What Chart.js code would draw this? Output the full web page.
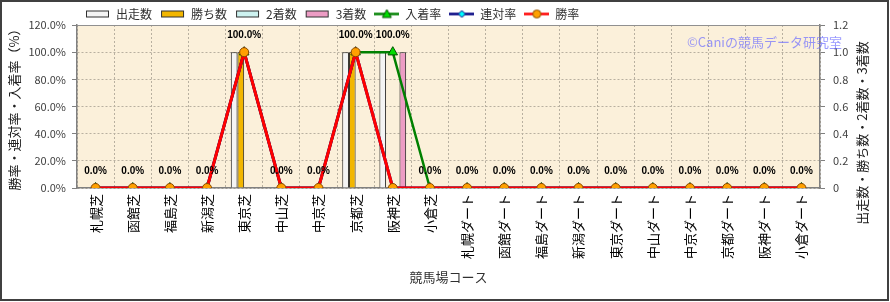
<!DOCTYPE html>
<html>
<head>
<meta charset="utf-8">
<script src="https://cdn.jsdelivr.net/npm/chart.js@4/dist/chart.umd.min.js"></script>
<style>
    html, body { margin: 0; padding: 0; background: #fff; }
    #wrap { width: 890px; height: 302px; position: relative; }
</style>
</head>
<body>
<div id="wrap"><canvas id="myChart"></canvas></div>
<script>
// data
const courses = ['札幌芝', '函館芝', '福島芝', '新潟芝', '東京芝', '中山芝', '中京芝', '京都芝', '阪神芝', '小倉芝',
    '札幌ダート', '函館ダート', '福島ダート', '新潟ダート', '東京ダート', '中山ダート', '中京ダート', '京都ダート', '阪神ダート', '小倉ダート'];
const starts  = [0, 0, 0, 0, 1, 0, 0, 1, 1, 0, 0, 0, 0, 0, 0, 0, 0, 0, 0, 0];
const wins    = [0, 0, 0, 0, 1, 0, 0, 1, 0, 0, 0, 0, 0, 0, 0, 0, 0, 0, 0, 0];
const seconds = [0, 0, 0, 0, 0, 0, 0, 0, 0, 0, 0, 0, 0, 0, 0, 0, 0, 0, 0, 0];
const thirds  = [0, 0, 0, 0, 0, 0, 0, 0, 1, 0, 0, 0, 0, 0, 0, 0, 0, 0, 0, 0];
const placeRate = [0, 0, 0, 0, 100, 0, 0, 100, 100, 0, 0, 0, 0, 0, 0, 0, 0, 0, 0, 0];
const top2Rate  = [0, 0, 0, 0, 100, 0, 0, 100, 0, 0, 0, 0, 0, 0, 0, 0, 0, 0, 0, 0];
const winRate   = [0, 0, 0, 0, 100, 0, 0, 100, 0, 0, 0, 0, 0, 0, 0, 0, 0, 0, 0, 0];

const JP = '"Noto Sans CJK JP", "Noto Sans", sans-serif';

// little legend pictures (bar swatch / line with marker)
function barIcon(fill) {
    const c = document.createElement('canvas');
    c.width = 25; c.height = 9;
    const g = c.getContext('2d');
    g.fillStyle = fill;
    g.fillRect(1, 1, 23, 7);
    g.strokeStyle = '#303030';
    g.lineWidth = 1;
    g.strokeRect(1.5, 1.5, 22, 6);
    return c;
}
function lineIcon(color, shape, fill, stroke) {
    const c = document.createElement('canvas');
    c.width = 25; c.height = 11;
    const g = c.getContext('2d');
    g.strokeStyle = color;
    g.lineWidth = 2.5;
    g.beginPath(); g.moveTo(0, 5.5); g.lineTo(25, 5.5); g.stroke();
    g.fillStyle = fill;
    g.strokeStyle = stroke;
    g.lineWidth = 1;
    g.beginPath();
    if (shape === 'triangle') {
        g.moveTo(12.5, 1); g.lineTo(17, 9); g.lineTo(8, 9); g.closePath();
    } else if (shape === 'rectRot') {
        g.moveTo(12.5, 2); g.lineTo(16, 5.5); g.lineTo(12.5, 9); g.lineTo(9, 5.5); g.closePath();
    } else {
        g.arc(12.5, 5.5, 4, 0, Math.PI * 2);
    }
    g.fill(); g.stroke();
    return c;
}

const icons = [
    barIcon('#F4F4F4'),
    barIcon('#F2B600'),
    barIcon('#CDF2F0'),
    barIcon('#EC9CC4'),
    lineIcon('#008000', 'triangle', '#00DD00', '#005000'),
    lineIcon('#000080', 'rectRot', '#00FFFF', '#000080'),
    lineIcon('#FF0000', 'circle', '#FFA000', '#8A4A00')
];

const decor = {
    id: 'decor',
    beforeLayout(chart) {
        const lg = chart.legend;
        if (lg && !lg._fixH) {
            const fit = lg.fit;
            lg.fit = function () { fit.call(this); this.height = 25; };
            lg._fixH = true;
        }
    },
    beforeDraw(chart) {
        const {ctx, chartArea: a} = chart;
        ctx.save();
        ctx.fillStyle = '#fff';
        ctx.fillRect(0, 0, chart.width, chart.height);
        ctx.fillStyle = '#FBF0DA';
        ctx.fillRect(a.left, a.top, a.right - a.left, a.bottom - a.top);
        ctx.restore();
    },
    afterDraw(chart) {
        const {ctx, chartArea: a} = chart;
        const x = chart.scales.x, yL = chart.scales.yL;
        ctx.save();
        // top frame line
        ctx.strokeStyle = '#909090';
        ctx.lineWidth = 1;
        ctx.beginPath(); ctx.moveTo(a.left, a.top + 0.5); ctx.lineTo(a.right, a.top + 0.5); ctx.stroke();

        // value labels of 入着率
        ctx.fillStyle = '#000';
        ctx.font = 'bold 10px "Liberation Sans", Arial, sans-serif';
        ctx.textAlign = 'center';
        ctx.textBaseline = 'middle';
        placeRate.forEach((v, i) => {
            ctx.fillText(v.toFixed(1) + '%', x.getPixelForValue(i), yL.getPixelForValue(v) - 17);
        });

        // watermark
        ctx.fillStyle = 'rgba(110, 110, 255, 0.7)';
        ctx.font = '13px ' + JP;
        ctx.textAlign = 'left';
        ctx.fillText('©Caniの競馬データ研究室', 687, 42);

        // right axis title, reading bottom to top
        ctx.fillStyle = '#202020';
        ctx.font = '13px ' + JP;
        ctx.textAlign = 'center';
        ctx.translate(862, 133);
        ctx.rotate(-Math.PI / 2);
        ctx.fillText('出走数・勝ち数・2着数・3着数', 0, 0);
        ctx.restore();

        // outer frame
        ctx.save();
        ctx.fillStyle = '#404040';
        ctx.fillRect(0, 0, 889, 2);
        ctx.fillRect(0, 0, 2, 301);
        ctx.fillRect(887, 0, 2, 301);
        ctx.fillRect(0, 299, 889, 2);
        ctx.restore();
    }
};

const barBase = {type: 'bar', yAxisID: 'yR', borderColor: '#202020', borderWidth: 1, order: 5,
    categoryPercentage: 0.72, barPercentage: 1.0};
const lineBase = {type: 'line', yAxisID: 'yL', borderWidth: 3, tension: 0, pointBorderWidth: 1};

const ctx = document.getElementById('myChart');
const myChart = new Chart(ctx, {
    type: 'bar',
    data: {
        labels: courses,
        datasets: [
            {...barBase, label: '出走数', data: starts, backgroundColor: '#F4F4F4'},
            {...barBase, label: '勝ち数', data: wins, backgroundColor: '#F2B600'},
            {...barBase, label: '2着数', data: seconds, backgroundColor: '#CDF2F0'},
            {...barBase, label: '3着数', data: thirds, backgroundColor: '#EC9CC4'},
            {...lineBase, label: '入着率', data: placeRate, borderColor: '#008000', order: 3, borderWidth: 2.5,
                pointStyle: 'triangle', pointRadius: 5.5, pointBackgroundColor: '#00DD00', pointBorderColor: '#005000'},
            {...lineBase, label: '連対率', data: top2Rate, borderColor: '#000080', order: 2,
                pointStyle: 'rectRot', pointRadius: 4.5, pointBackgroundColor: '#00FFFF', pointBorderColor: '#000080'},
            {...lineBase, label: '勝率', data: winRate, borderColor: '#FF0000', order: 1,
                pointStyle: 'circle', pointRadius: 4.5, pointBackgroundColor: '#FFA000', pointBorderColor: '#8A4A00'}
        ]
    },
    options: {
        responsive: true,
        maintainAspectRatio: false,
        animation: false,
        layout: {padding: 0},
        plugins: {
            tooltip: {enabled: false},
            legend: {
                position: 'top',
                align: 'start',
                fullSize: false,
                labels: {
                    usePointStyle: true,
                    pointStyleWidth: 25,
                    padding: 8,
                    color: '#303030',
                    font: {family: JP, size: 12},
                    generateLabels: (chart) => chart.data.datasets.map((ds, i) => ({
                        text: ds.label,
                        pointStyle: icons[i],
                        datasetIndex: i,
                        fontColor: '#303030',
                        lineWidth: 0,
                        hidden: false
                    }))
                }
            }
        },
        scales: {
            x: {
                grid: {color: '#B8B0A0', drawTicks: false, offset: true},
                border: {color: '#808080', width: 1.5, dash: [2, 2]},
                ticks: {
                    autoSkip: false, maxRotation: 90, minRotation: 90, padding: 6,
                    color: '#000', font: {family: JP, size: 13}
                },
                title: {display: true, text: '競馬場コース', color: '#303030',
                    font: {family: JP, size: 13}, padding: {top: 4, bottom: 17}},
                afterFit: (s) => { s.height = 114; }
            },
            yL: {
                position: 'left',
                min: 0, max: 120,
                grid: {color: '#B8B0A0', tickColor: '#808080', tickLength: 5},
                border: {color: '#808080', width: 1.5, dash: [2, 2]},
                ticks: {
                    stepSize: 20, padding: 6, color: '#404040',
                    font: {family: JP, size: 11},
                    callback: (v) => v.toFixed(1) + '%'
                },
                title: {display: true, text: '勝率・連対率・入着率（%）', color: '#202020',
                    font: {family: JP, size: 13}, padding: {top: 6, bottom: 0}},
                afterFit: (s) => { s.width = 77; }
            },
            yR: {
                position: 'right',
                min: 0, max: 1.2,
                grid: {drawOnChartArea: false, color: '#808080', tickLength: 5},
                border: {color: '#808080', width: 1.5},
                ticks: {stepSize: 0.2, padding: 8, color: '#404040', font: {family: JP, size: 11}},
                afterFit: (s) => { s.width = 70; }
            }
        }
    },
    plugins: [decor]
});
</script>
</body>
</html>
